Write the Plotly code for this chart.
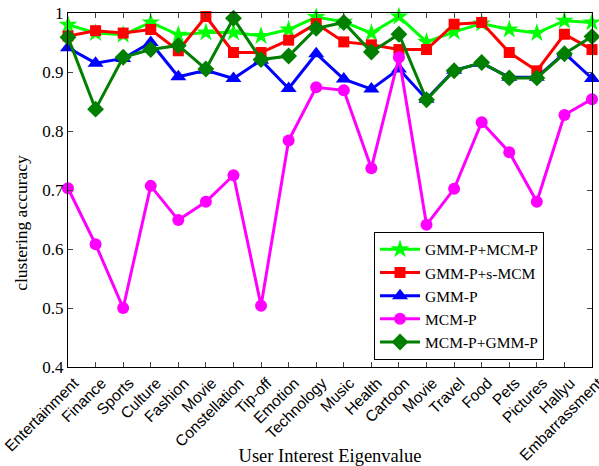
import plotly.graph_objects as go

categories = ["Entertainment", "Finance", "Sports", "Culture", "Fashion", "Movie",
              "Constellation", "Tip-off", "Emotion", "Technology", "Music", "Health",
              "Cartoon", "Movie", "Travel", "Food", "Pets", "Pictures", "Hallyu",
              "Embarrassment"]

gmm_mcm = [0.980, 0.966, 0.963, 0.984, 0.963, 0.967, 0.967, 0.961, 0.972, 0.993,
           0.985, 0.966, 0.994, 0.951, 0.968, 0.982, 0.972, 0.966, 0.987, 0.984]
gmm_smcm = [0.961, 0.970, 0.966, 0.972, 0.936, 0.994, 0.933, 0.933, 0.954, 0.982,
            0.951, 0.946, 0.938, 0.938, 0.981, 0.984, 0.933, 0.902, 0.964, 0.938]
gmm = [0.941, 0.915, 0.923, 0.950, 0.892, 0.903, 0.889, 0.920, 0.872, 0.931,
       0.888, 0.871, 0.905, 0.854, 0.903, 0.915, 0.891, 0.891, 0.932, 0.889]
mcm = [0.703, 0.608, 0.500, 0.707, 0.649, 0.680, 0.725, 0.504, 0.784, 0.874,
       0.869, 0.737, 0.925, 0.641, 0.702, 0.815, 0.764, 0.680, 0.827, 0.854]
mcm_gmm = [0.959, 0.837, 0.925, 0.938, 0.945, 0.905, 0.991, 0.921, 0.927, 0.974,
           0.984, 0.934, 0.964, 0.853, 0.902, 0.916, 0.890, 0.890, 0.931, 0.960]

y_ticks = [0.4, 0.5, 0.6, 0.7, 0.8, 0.9, 1.0]
y_labels = ["0.4", "0.5", "0.6", "0.7", "0.8", "0.9", "1"]

x = list(range(1, len(categories) + 1))

series = [
    ("GMM-P+MCM-P", gmm_mcm, "#00ff00", "star", 14),
    ("GMM-P+s-MCM", gmm_smcm, "#ff0000", "square", 11),
    ("GMM-P", gmm, "#0000ff", "triangle-up", 14),
    ("MCM-P", mcm, "#ff00ff", "circle", 12),
    ("MCM-P+GMM-P", mcm_gmm, "#007f00", "diamond", 13),
]

fig = go.Figure()
for name, vals, color, sym, size in series:
    fig.add_trace(go.Scatter(
        x=x, y=vals, name=name, mode="lines+markers",
        line=dict(color=color, width=3),
        marker=dict(symbol=sym, size=size, color=color, line=dict(width=0)),
        cliponaxis=False,
    ))

fig.update_layout(
    width=599, height=466,
    margin=dict(l=68, r=7, t=13, b=99),
    paper_bgcolor="white", plot_bgcolor="white",
    font=dict(family="Liberation Serif", size=17, color="black"),
    showlegend=True,
    legend=dict(
        x=0.584, y=0.382, xanchor="left", yanchor="top",
        bgcolor="white", bordercolor="black", borderwidth=1,
        font=dict(family="Liberation Serif", size=15.5),
        tracegroupgap=0, itemwidth=40,
    ),
    annotations=[dict(
        text="clustering accuracy", textangle=-90,
        xref="paper", yref="paper", x=-0.09, y=0.407,
        xanchor="center", yanchor="middle", showarrow=False,
        font=dict(family="Liberation Serif", size=17.5),
    )],
)
fig.update_xaxes(
    range=[1, 20], tickmode="array", tickvals=x, ticktext=categories,
    tickangle=-45, tickfont=dict(family="Liberation Sans", size=15.5),
    ticks="inside", ticklen=5, showline=True, linecolor="black", linewidth=1,
    mirror="ticks", showgrid=False, zeroline=False, automargin=False,
    ticklabeloverflow="allow", ticklabelshift=6,
    title=dict(text="User Interest Eigenvalue", font=dict(family="Liberation Serif", size=18.5), standoff=4),
)
fig.update_yaxes(
    range=[0.4, 1.0], tickmode="array", tickvals=y_ticks, ticktext=y_labels,
    tickfont=dict(family="Liberation Serif", size=17),
    ticks="inside", ticklen=5, showline=True, linecolor="black", linewidth=1,
    mirror="ticks", showgrid=False, zeroline=False, automargin=False,
    ticklabeloverflow="allow",
)

fig.write_html("out.html")
